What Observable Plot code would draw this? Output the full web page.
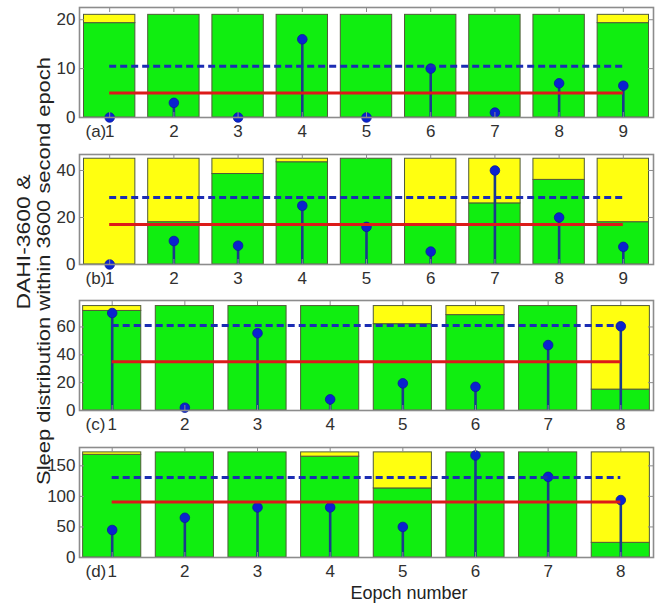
<!DOCTYPE html>
<html>
<head>
<meta charset="utf-8">
<script src="https://cdn.jsdelivr.net/npm/d3@7"></script>
<script src="https://cdn.jsdelivr.net/npm/@observablehq/plot@0.6"></script>
<style>
  html, body { margin: 0; padding: 0; background: #fff; }
  #wrap { position: relative; width: 660px; height: 604px; overflow: hidden; }
  .panel { position: absolute; left: 0; }
  #overlay { position: absolute; left: 0; top: 0; pointer-events: none; }
</style>
</head>
<body>
<div id="wrap"></div>
<script>
// ---------- data ----------
const epochs9 = [1, 2, 3, 4, 5, 6, 7, 8, 9];
const epochs8 = [1, 2, 3, 4, 5, 6, 7, 8];

// (a)
const totalA = 21;
const greenA = [19.3, 21, 21, 21, 21, 21, 21, 21, 19.3];
const stemA = [0, 3, 0, 16, 0, 10, 1, 7, 6.5];
const dashA = 10.5;
const redA = 5;
const ticksA = [0, 10, 20];
const yMaxA = 22.5;

// (b)
const totalB = 45;
const greenB = [0, 18, 38.5, 43.5, 45, 17, 26, 36, 18];
const stemB = [0, 10, 8, 25, 16, 5.5, 40, 20, 7.5];
const dashB = 28.5;
const redB = 17;
const ticksB = [0, 20, 40];
const yMaxB = 46.8;

// (c)
const totalC = 75;
const greenC = [71.5, 75, 75, 75, 62, 68.5, 75, 15];
const stemC = [70, 2, 55.5, 8, 19.5, 17, 47, 60.5];
const dashC = 61;
const redC = 35;
const ticksC = [0, 20, 40, 60];
const yMaxC = 79;

// (d)
const totalD = 172;
const greenD = [168, 172, 172, 165, 113, 172, 172, 24];
const stemD = [45, 65, 82, 82, 50, 167, 132, 94];
const dashD = 131;
const redD = 91;
const ticksD = [0, 50, 100, 150];
const yMaxD = 180;

const panelLabels = ["(a)", "(b)", "(c)", "(d)"];
const yTitle1 = "DAHI-3600  &";
const yTitle2 = "Sleep distribution within 3600 second epoch";
const xTitle = "Eopch number";

// ---------- styles ----------
const GREEN = "#10ee10";
const YELLOW = "#ffff10";
const EDGE = "#4f5a38";
const STEM = "#1a3a8c";
const DOT = "#0a22d0";
const DASH = "#1c2cb4";
const RED = "#dd1a1a";
const FRAME = "#8c8c8c";
const TEXT = "#303030";
const FONT = "'Liberation Sans', Arial, Helvetica, sans-serif";

const W = 660, ML = 79, MR = 7, MT = 7, BOX_H = 110;
const BOX_W = W - ML - MR;

function panel({cats, green, total, stems, dash, red, yTicks, yMax, xDomain, label, top, mb}) {
  const rows = cats.map((c, i) => ({x: c, g: green[i], t: total, s: stems[i]}));
  const x0 = d3.min(cats), x1 = d3.max(cats);
  const chart = Plot.plot({
    width: W,
    height: MT + BOX_H + mb,
    marginLeft: ML, marginRight: MR, marginTop: MT, marginBottom: mb,
    style: {fontFamily: FONT, fontSize: "17px", color: TEXT, background: "transparent"},
    x: {type: "linear", domain: xDomain},
    y: {type: "linear", domain: [0, yMax]},
    marks: [
      Plot.rect(rows, {x1: d => d.x - 0.4, x2: d => d.x + 0.4, y1: 0, y2: "g", fill: GREEN, stroke: EDGE, strokeWidth: 1}),
      Plot.rect(rows.filter(d => d.t > d.g), {x1: d => d.x - 0.4, x2: d => d.x + 0.4, y1: "g", y2: "t", fill: YELLOW, stroke: EDGE, strokeWidth: 1}),
      Plot.ruleX(rows, {x: "x", y1: 0, y2: "s", stroke: STEM, strokeWidth: 2.6}),
      Plot.dot(rows, {x: "x", y: "s", r: 4.8, fill: DOT, stroke: "#0a1c9a", strokeWidth: 0.8}),
      Plot.ruleY([red], {y: d => d, x1: x0, x2: x1, stroke: RED, strokeWidth: 3}),
      Plot.ruleY([dash], {y: d => d, x1: x0, x2: x1, stroke: DASH, strokeWidth: 3, strokeDasharray: "7,4"}),
      Plot.frame({stroke: FRAME, strokeWidth: 1.6}),
      Plot.tickX(cats, {x: d => d, insetBottom: BOX_H - 5, stroke: FRAME, strokeWidth: 1}),
      Plot.tickX(cats, {x: d => d, insetTop: BOX_H - 5, stroke: FRAME, strokeWidth: 1}),
      Plot.tickY(yTicks, {y: d => d, insetRight: BOX_W - 5, stroke: FRAME, strokeWidth: 1}),
      Plot.tickY(yTicks, {y: d => d, insetLeft: BOX_W - 5, stroke: FRAME, strokeWidth: 1}),
      Plot.axisY({ticks: yTicks, tickSize: 0, tickPadding: 4, label: null, fontSize: 17, tickFormat: d => String(d)}),
      Plot.axisX({ticks: cats, tickSize: 0, tickPadding: 7, label: null, fontSize: 17, tickFormat: d => String(d)}),
      Plot.text([label], {frameAnchor: "bottom-left", text: d => d, textAnchor: "start", lineAnchor: "top", dx: 6, dy: 7, fontSize: 17, fill: TEXT})
    ]
  });
  const div = document.createElement("div");
  div.className = "panel";
  div.style.top = (top - MT) + "px";
  div.appendChild(chart);
  document.getElementById("wrap").appendChild(div);
}

panel({cats: epochs9, green: greenA, total: totalA, stems: stemA, dash: dashA, red: redA, yTicks: ticksA, yMax: yMaxA, xDomain: [0.53, 9.47], label: panelLabels[0], top: 7, mb: 30});
panel({cats: epochs9, green: greenB, total: totalB, stems: stemB, dash: dashB, red: redB, yTicks: ticksB, yMax: yMaxB, xDomain: [0.53, 9.47], label: panelLabels[1], top: 154, mb: 30});
panel({cats: epochs8, green: greenC, total: totalC, stems: stemC, dash: dashC, red: redC, yTicks: ticksC, yMax: yMaxC, xDomain: [0.55, 8.45], label: panelLabels[2], top: 300, mb: 30});
panel({cats: epochs8, green: greenD, total: totalD, stems: stemD, dash: dashD, red: redD, yTicks: ticksD, yMax: yMaxD, xDomain: [0.55, 8.45], label: panelLabels[3], top: 447, mb: 50});

// ---------- titles ----------
const svg = d3.select("#wrap").append("svg")
  .attr("id", "overlay").attr("width", 660).attr("height", 604)
  .style("font-family", FONT);
svg.append("text")
  .attr("transform", "translate(30,242) rotate(-90)")
  .attr("text-anchor", "middle").attr("font-size", 19).attr("fill", "#222")
  .attr("textLength", 135).attr("lengthAdjust", "spacingAndGlyphs")
  .text(yTitle1);
svg.append("text")
  .attr("transform", "translate(50,271) rotate(-90)")
  .attr("text-anchor", "middle").attr("font-size", 19).attr("fill", "#222")
  .attr("textLength", 428).attr("lengthAdjust", "spacingAndGlyphs")
  .text(yTitle2);
svg.append("text")
  .attr("x", 409).attr("y", 599)
  .attr("text-anchor", "middle").attr("font-size", 18).attr("fill", "#222")
  .text(xTitle);
</script>
</body>
</html>
